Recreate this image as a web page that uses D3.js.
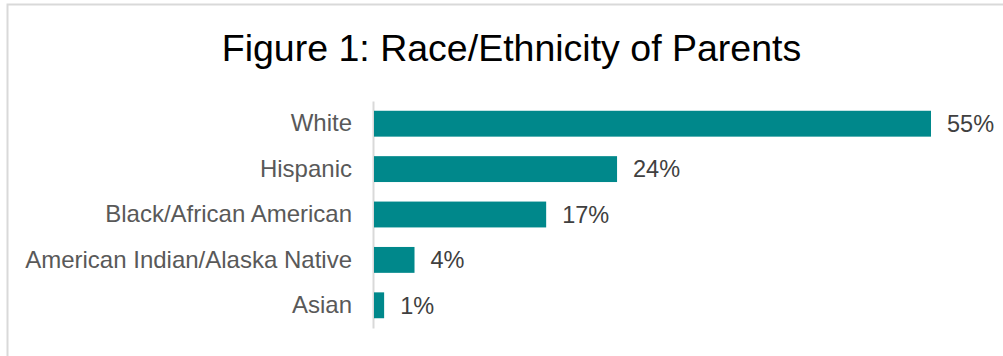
<!DOCTYPE html>
<html>
<head>
<meta charset="utf-8">
<script src="https://cdn.jsdelivr.net/npm/d3@7"></script>
<style>
  body { margin: 0; background: #fff; }
  svg { display: block; font-family: "Liberation Sans", Arial, sans-serif; }
</style>
</head>
<body>
<div id="chart"></div>
<script>
const categories = ["White", "Hispanic", "Black/African American", "American Indian/Alaska Native", "Asian"];
const percents = [55, 24, 17, 4, 1];
const valueLabels = ["55%", "24%", "17%", "4%", "1%"];

const width = 1003, height = 356;
const plotLeft = 374, plotTop = 101, plotW = 557, plotH = 227;

const svg = d3.select("#chart")
    .append("svg")
    .attr("width", width)
    .attr("height", height);

// frame (right and bottom edges fall outside the page)
svg.append("rect")
    .attr("x", 7.5)
    .attr("y", 4.5)
    .attr("width", width + 20)
    .attr("height", height + 20)
    .attr("fill", "none")
    .attr("stroke", "#d9d9d9")
    .attr("stroke-width", 2);

svg.append("text")
    .attr("x", 511.5)
    .attr("y", 61)
    .attr("text-anchor", "middle")
    .attr("font-size", 37.5)
    .attr("fill", "#000")
    .text("Figure 1: Race/Ethnicity of Parents");

const g = svg.append("g")
    .attr("transform", `translate(${plotLeft}, ${plotTop})`);

const x = d3.scaleLinear()
    .domain([0, 55])
    .range([0, plotW]);

const y = d3.scaleBand()
    .domain(categories)
    .range([0, plotH])
    .paddingInner(0.43)
    .paddingOuter(0.215);

const yAxis = g.append("g")
    .call(d3.axisLeft(y).tickSize(0).tickPadding(22));
yAxis.select(".domain")
    .attr("stroke", "#d9d9d9")
    .attr("stroke-width", 2)
    .attr("transform", "translate(-1,0)");
yAxis.selectAll("text")
    .attr("font-size", 24)
    .attr("fill", "#595959")
    .attr("font-family", "Liberation Sans, Arial, sans-serif");

g.selectAll(".bar")
    .data(categories)
    .enter()
    .append("rect")
    .attr("class", "bar")
    .attr("x", 0)
    .attr("y", d => y(d))
    .attr("width", (d, i) => x(percents[i]))
    .attr("height", y.bandwidth())
    .attr("fill", "#00888b");

g.selectAll(".val")
    .data(categories)
    .enter()
    .append("text")
    .attr("class", "val")
    .attr("x", (d, i) => x(percents[i]) + 16)
    .attr("y", d => y(d) + y.bandwidth() / 2)
    .attr("dy", "0.35em")
    .attr("font-size", 23.5)
    .attr("fill", "#404040")
    .text((d, i) => valueLabels[i]);
</script>
</body>
</html>
